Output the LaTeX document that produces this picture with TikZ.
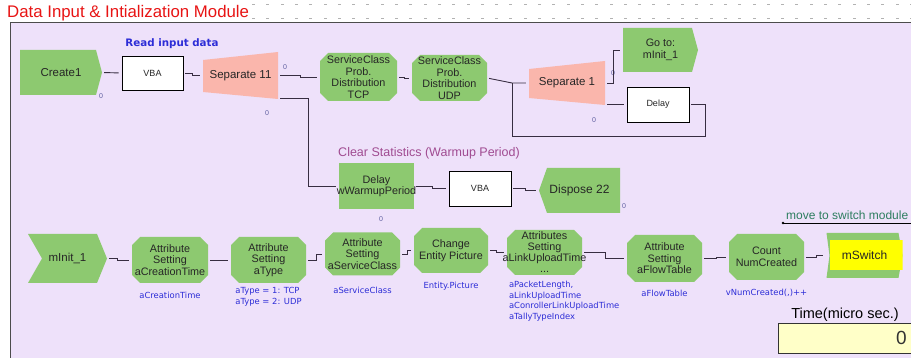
\documentclass[tikz,border=0pt]{standalone}
\usepackage{fontspec}
\setmainfont{Liberation Sans}
\newfontfamily\verdfont{DejaVu Sans}
\definecolor{BlockGreen}{RGB}{141,201,112}
\definecolor{SepPink}{RGB}{250,182,172}
\definecolor{PanelLilac}{RGB}{238,225,250}
\definecolor{TitleRed}{RGB}{232,20,20}
\definecolor{NoteBlue}{RGB}{45,45,215}
\definecolor{WireGray}{RGB}{55,45,65}
\definecolor{PortBlue}{RGB}{95,95,160}
\definecolor{ClearMauve}{RGB}{160,75,145}
\definecolor{SwitchTeal}{RGB}{45,125,95}
\definecolor{TimeYellow}{RGB}{255,255,200}
\definecolor{SwitchYellow}{RGB}{255,255,0}
\usetikzlibrary{positioning}

\begin{document}
\begin{tikzpicture}[x=1pt, y=-1pt,
  every node/.style={font=\fontsize{10.8}{11.5}\selectfont, text=black!85, inner sep=0pt},
  wire/.style={draw=WireGray, line width=0.9pt, shorten <=2pt, shorten >=3pt},
  port/.style={font=\fontsize{7}{7}\selectfont, text=PortBlue},
  note/.style={font=\verdfont\fontsize{8.4}{10.5}\selectfont, text=NoteBlue, align=left},
  vbabox/.style={rectangle, draw=black, line width=0.8pt, fill=white, minimum width=61pt, minimum height=34pt, font=\fontsize{9}{9}\selectfont},
  greenbox/.style={rectangle, fill=BlockGreen, align=center, minimum width=75pt, minimum height=46pt},
  attr/.style={rectangle, align=center, minimum width=75pt, minimum height=46pt,
    path picture={\fill[BlockGreen] ([xshift=8pt]path picture bounding box.north west)
      -- ([xshift=-8pt]path picture bounding box.north east) -- ([yshift=-8pt]path picture bounding box.north east)
      -- ([yshift=8pt]path picture bounding box.south east) -- ([xshift=-8pt]path picture bounding box.south east)
      -- ([xshift=8pt]path picture bounding box.south west) -- ([yshift=8pt]path picture bounding box.south west)
      -- ([yshift=-8pt]path picture bounding box.north west) -- cycle;}},
  arrowout/.style={rectangle, align=center, font=\fontsize{11.5}{12}\selectfont,
    path picture={\fill[BlockGreen] (path picture bounding box.north west)
      -- ([xshift=-6pt]path picture bounding box.north east) -- (path picture bounding box.east)
      -- ([xshift=-6pt]path picture bounding box.south east) -- (path picture bounding box.south west) -- cycle;}},
  arrowin/.style={rectangle, align=center, font=\fontsize{11.5}{12}\selectfont,
    path picture={\fill[BlockGreen] ([xshift=8pt]path picture bounding box.north west)
      -- (path picture bounding box.north east) -- (path picture bounding box.south east)
      -- ([xshift=8pt]path picture bounding box.south west) -- (path picture bounding box.west) -- cycle;}},
  notched/.style={rectangle, align=center, font=\fontsize{11.5}{12}\selectfont,
    path picture={\fill[BlockGreen] (path picture bounding box.north west)
      -- ([xshift=-10pt]path picture bounding box.north east) -- (path picture bounding box.east)
      -- ([xshift=-10pt]path picture bounding box.south east) -- (path picture bounding box.south west)
      -- ([xshift=14pt]path picture bounding box.west) -- cycle;}},
  sepbox/.style={rectangle, align=center, font=\fontsize{11.5}{12}\selectfont,
    path picture={\fill[SepPink] ([yshift=-8pt]path picture bounding box.north west)
      -- (path picture bounding box.north east) -- (path picture bounding box.south east)
      -- ([yshift=7pt]path picture bounding box.south west) -- cycle;}}
]
\useasboundingbox (0,0) rectangle (911,358);
% panel and title
\fill[white] (0,0) rectangle (911,358);
\draw[fill=PanelLilac, draw=black!70, line width=0.9pt] (10,22.5) rectangle (940,380);
\foreach \i in {0,...,46} {
  \fill[black!30] (252+\i*14.3,4) rectangle ++(3,1.2);
  \fill[black!30] (252+\i*14.3,18) rectangle ++(3,1.2);
}
\node[anchor=base west, font=\fontsize{16.8}{17}\selectfont, text=TitleRed] (title) at (7,18) {Data Input \& Intialization Module};

% top row
\node[font=\verdfont\bfseries\fontsize{10.3}{11}\selectfont, text=NoteBlue] (readlbl) at (172,44) {Read input data};
\node[arrowout, minimum width=82pt, minimum height=45pt] (create) at (61,72.5) {Create1};
\node[vbabox] (vbaA) at (152.5,73) {VBA};
\node[sepbox, minimum width=75pt, minimum height=47pt] (sep11) at (240.5,75.5) {Separate 11};
\node[attr, minimum width=77pt, minimum height=48pt] (tcp) at (358.5,77) {ServiceClass\\Prob.\\Distribution\\TCP};
\node[attr] (udp) at (449.5,78) {ServiceClass\\Prob.\\Distribution\\UDP};
\node[sepbox, minimum width=76pt, minimum height=44pt] (sep1) at (567,83) {Separate 1};
\node[arrowout, minimum width=75pt, minimum height=44pt, font=\fontsize{10.8}{12}\selectfont] (gotoA) at (660.5,50) {Go to:\\mInit\_1};
\node[vbabox, minimum width=62pt, minimum height=35pt] (delay) at (658,104.5) {Delay};
\coordinate (join1) at (512,83);

\node[port] (p1) at (101,96) {0};
\node[port] (p2) at (285,67) {0};
\node[port] (p3) at (267,113) {0};
\node[port] (p4) at (613,73) {0};
\node[port] (p5) at (594,120) {0};

% warmup row
\node[font=\fontsize{12.5}{13}\selectfont, text=ClearMauve] (clearlbl) at (429,153) {Clear Statistics (Warmup Period)};
\node[greenbox] (warm) at (376.5,186) {Delay\\\makebox[0pt]{wWarmupPeriod}};
\node[vbabox, minimum width=62pt, minimum height=35pt] (vbaB) at (480,188.5) {VBA};
\node[arrowin, minimum width=81pt, minimum height=45pt, font=\fontsize{12}{12}\selectfont] (disp) at (579.5,190.5) {Dispose 22};
\node[port] (p6) at (381,219) {0};
\node[port] (p7) at (624,206) {0};

% bottom row
\node[notched, minimum width=79pt, minimum height=49pt] (init) at (67.5,258.5) {mInit\_1};
\node[attr, minimum width=76pt] (aCT) at (170,260) {Attribute\\Setting\\aCreationTime};
\node[attr] (aTy) at (268.5,260) {Attribute\\Setting\\aType};
\node[attr, minimum height=43pt] (aSC) at (362.5,254) {Attribute\\Setting\\aServiceClass};
\node[attr, minimum width=74pt, minimum height=45pt] (chg) at (451,250.5) {Change\\Entity Picture};
\node[attr, minimum height=45pt, font=\fontsize{10.8}{11}\selectfont] (aLU) at (544.5,252.5) {Attributes\\Setting\\\makebox[0pt]{aLinkUploadTime}\\...};
\node[attr, minimum height=47pt] (aFT) at (664.5,258.5) {Attribute\\Setting\\aFlowTable};
\node[attr] (cnt) at (766.5,257) {Count\\NumCreated};
\node[rectangle, minimum width=76pt, minimum height=45pt, font=\fontsize{12}{12}\selectfont,
  path picture={\fill[BlockGreen] (path picture bounding box.north west)
    -- ([xshift=-4pt]path picture bounding box.north east) -- (path picture bounding box.east)
    -- ([xshift=-4pt]path picture bounding box.south east) -- (path picture bounding box.south west)
    -- ([xshift=3pt]path picture bounding box.west) -- cycle;
    \fill[SwitchYellow] ([xshift=3pt,yshift=-7pt]path picture bounding box.north west) rectangle ([yshift=8pt]path picture bounding box.south east);}] (msw) at (864.5,255.5) {mSwitch};

\node[note, below=9pt of aCT] (aCTnote) {aCreationTime};
\node[note, below=4pt of aTy] (aTynote) {aType = 1: TCP\\aType = 2: UDP};
\node[note, below=11pt of aSC] (aSCnote) {aServiceClass};
\node[note, below=9pt of chg] (chgnote) {Entity.Picture};
\node[note, below=6pt of aLU.south west, anchor=north west, xshift=2pt] (aLUnote) {aPacketLength,\\aLinkUploadTime\\aConrollerLinkUploadTime\\aTallyTypeIndex};
\node[note, below=8pt of aFT] (aFTnote) {aFlowTable};
\node[note, below=9pt of cnt] (cntnote) {vNumCreated(,)++};

\coordinate (mvdot) at (783,223);
\node[anchor=base west, font=\fontsize{12}{13}\selectfont, text=SwitchTeal] (movelbl) at (786,220) {move to switch module};
\fill[black] (mvdot) circle (1.3);
\draw[black, line width=0.8pt] (mvdot) -- ++(140,0);

\node[font=\fontsize{14.5}{15}\selectfont, text=black] (timelbl) at (845,315) {Time(micro sec.)};
\node[rectangle, draw=black!80, line width=0.8pt, fill=TimeYellow, minimum width=152pt, minimum height=30pt] (timebox) at (854,338) {};
\node[anchor=east, font=\fontsize{19}{19}\selectfont, text=black!80] (timeval) at (907,338) {0};

% connectors
\draw[wire] (create.east) -- (vbaA.west);
\draw[wire] (vbaA.east) -- ++(9,0) |- (sep11.west);
\draw[wire] (sep11.east) -- ++(22,0) |- (tcp.west);
\draw[wire] ([yshift=1pt]sep11.south east) -- ++(30,0) |- (warm.west);
\draw[wire] (tcp.east) -- ++(7,0) |- (udp.west);
\draw[wire] (udp.east) -- (join1) |- (sep1.west);
\draw[wire] (sep1.east) -- ++(8,0) |- (gotoA.west);
\draw[wire] ([yshift=1pt]sep1.south east) -- ++(10,0) |- (delay.west);
\draw[wire, shorten >=0pt] (delay.east) -- ++(16,0) -- ++(0,31.5) -| (join1);
\draw[wire] (warm.east) -- ++(18,0) |- (vbaB.west);
\draw[wire] (vbaB.east) -- ++(14,0) |- (disp.west);
\draw[wire] (init.east) -- ++(10,0) |- (aCT.west);
\draw[wire] (aCT.east) -- (aTy.west);
\draw[wire] (aTy.east) -- ++(10,0) |- (aSC.west);
\draw[wire] (aSC.east) -- ++(7,0) |- (chg.west);
\draw[wire] (chg.east) -- ++(8,0) |- (aLU.west);
\draw[wire] (aLU.east) -- ++(23,0) |- (aFT.west);
\draw[wire] (aFT.east) -- ++(14,0) |- (cnt.west);
\draw[wire] (cnt.east) -- ++(12,0) |- (msw.west);
\end{tikzpicture}
\end{document}
